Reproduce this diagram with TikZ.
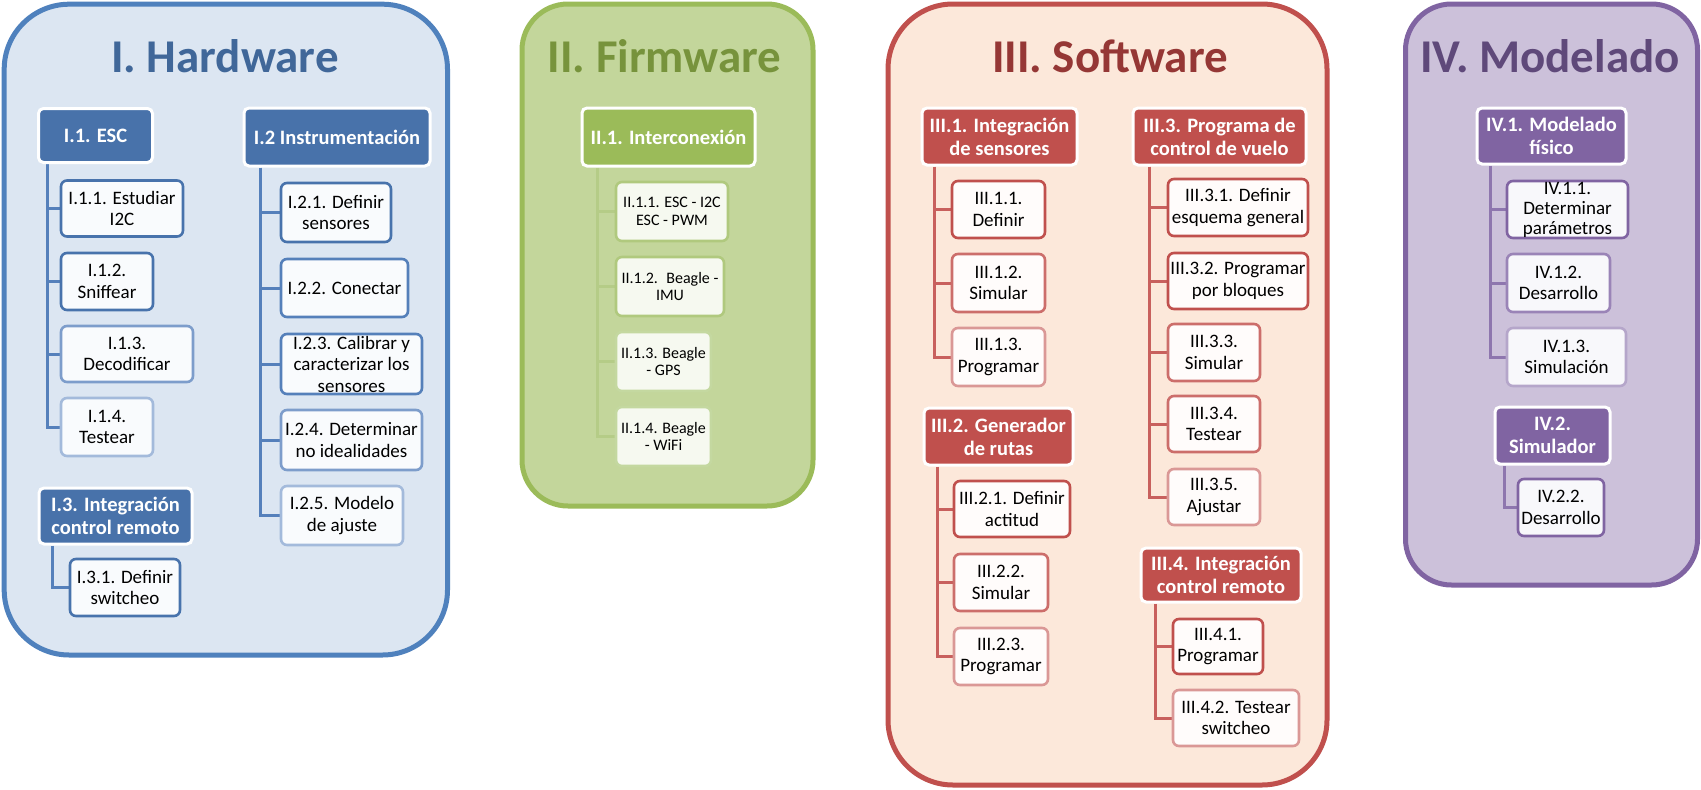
\documentclass[tikz,border=0pt]{standalone}
\usepackage{fontspec}
\setmainfont{Carlito}
\pgfdeclarelayer{panellayer}
\pgfdeclarelayer{linelayer}
\pgfsetlayers{panellayer,linelayer,main}
\definecolor{bAcc}{HTML}{4F81BD}
\definecolor{bHead}{HTML}{4872AA}
\definecolor{bFill}{HTML}{DCE6F2}
\definecolor{bTitle}{HTML}{406799}
\definecolor{bCF}{HTML}{F9FBFD}
\definecolor{bC1}{HTML}{4873AC}
\definecolor{bC2}{HTML}{5580BA}
\definecolor{bC3}{HTML}{7D9DCB}
\definecolor{bC4}{HTML}{A3BADB}
\definecolor{bLine}{HTML}{5580BB}
\definecolor{gAcc}{HTML}{9BBB59}
\definecolor{gFill}{HTML}{C3D69B}
\definecolor{gTitle}{HTML}{77933C}
\definecolor{gCF}{HTML}{F6F9F0}
\definecolor{gC1}{HTML}{B0C97E}
\definecolor{gC2}{HTML}{C4D8A0}
\definecolor{gLine}{HTML}{B5CC87}
\definecolor{rAcc}{HTML}{C0504D}
\definecolor{rFill}{HTML}{FCE8DA}
\definecolor{rTitle}{HTML}{953735}
\definecolor{rCF}{HTML}{FFFCFB}
\definecolor{rC1}{HTML}{C0504D}
\definecolor{rC2}{HTML}{CC6E6B}
\definecolor{rC3}{HTML}{DA9896}
\definecolor{rLine}{HTML}{C8605D}
\definecolor{pAcc}{HTML}{8064A2}
\definecolor{pFill}{HTML}{CCC1DA}
\definecolor{pTitle}{HTML}{5F497A}
\definecolor{pCF}{HTML}{F8F8FB}
\definecolor{pC1}{HTML}{8064A2}
\definecolor{pC2}{HTML}{9A84B7}
\definecolor{pC3}{HTML}{B5A6CA}
\definecolor{pLine}{HTML}{8E76AE}
\newcommand\hdfont{\bfseries\fontsize{20.5}{23}\selectfont}
\newcommand\chfont{\fontsize{19}{21.5}\selectfont}
\newcommand\fwfont{\fontsize{16}{17.5}\selectfont}
\newcommand\ttlfont{\bfseries\fontsize{47}{50}\selectfont}
\tikzset{
  head/.style={rounded corners=5pt, draw=white, line width=3pt, text=white, font=\hdfont, align=center, inner sep=0pt},
  child/.style={rounded corners=6pt, line width=2.6pt, font=\chfont, align=center, inner sep=0pt, text=black},
  conn/.style={line width=3pt},
  panelbox/.style={line width=5pt},
  ttl/.style={font=\ttlfont, anchor=base, inner sep=0pt},
}
\begin{document}
\begin{tikzpicture}[x=1pt,y=-1pt]
\useasboundingbox (0,0) rectangle (1701,790);
% ---------- panels ----------
\begin{pgfonlayer}{panellayer}
\fill[white] (0,0) rectangle (1701,790);
\draw[panelbox, draw=bAcc, fill=bFill, rounded corners=65pt] (4.2,4.2) rectangle (447.5,655);
\draw[panelbox, draw=gAcc, fill=gFill, rounded corners=46pt] (522,4) rectangle (813,506);
\draw[panelbox, draw=rAcc, fill=rFill, rounded corners=65pt] (888,4) rectangle (1327,785);
\draw[panelbox, draw=pAcc, fill=pFill, rounded corners=46pt] (1405.5,4) rectangle (1697.5,585);
\end{pgfonlayer}
% ---------- titles ----------
\node[ttl, text=bTitle] (t1) at (225,72) {I. Hardware};
\node[ttl, text=gTitle] (t2) at (664.5,72) {II. Firmware};
\node[ttl, text=rTitle] (t3) at (1110,72) {III. Software};
\node[ttl, text=pTitle] (t4) at (1550,72) {IV. Modelado};
% ---------- I. Hardware ----------
\node[head, fill=bHead, minimum width=114pt, minimum height=54pt] (h11) at (95.5,135.5) {I.1. ESC};
\node[head, fill=bHead, minimum width=186pt, minimum height=58pt] (h12) at (337,137) {I.2 Instrumentación};
\node[head, fill=bHead, minimum width=153pt, minimum height=56pt] (h13) at (115.5,516) {I.3. Integración\\control remoto};
\node[child, draw=bC1, fill=bCF, minimum width=122pt, minimum height=56pt] (c111) at (122,208.5) {I.1.1. Estudiar\\I2C};
\node[child, draw=bC1, fill=bCF, minimum width=92pt, minimum height=57pt] (c112) at (107,281.5) {I.1.2.\\Sniffear};
\node[child, draw=bC3, fill=bCF, minimum width=132pt, minimum height=56pt] (c113) at (127,354) {I.1.3.\\Decodificar};
\node[child, draw=bC4, fill=bCF, minimum width=92pt, minimum height=58pt] (c114) at (107,427) {I.1.4.\\Testear};
\node[child, draw=bC1, fill=bCF, minimum width=110pt, minimum height=59pt] (c121) at (336,212.5) {I.2.1. Definir\\sensores};
\node[child, draw=bC2, fill=bCF, minimum width=127pt, minimum height=58pt] (c122) at (344.5,288) {I.2.2. Conectar};
\node[child, draw=bC2, fill=bCF, minimum width=141pt, minimum height=60pt] (c123) at (351.5,364) {I.2.3. Calibrar y\\caracterizar los\\sensores};
\node[child, draw=bC3, fill=bCF, minimum width=141pt, minimum height=60pt] (c124) at (351.5,440) {I.2.4. Determinar\\no idealidades};
\node[child, draw=bC4, fill=bCF, minimum width=122pt, minimum height=59pt] (c125) at (342,515.5) {I.2.5. Modelo\\de ajuste};
\node[child, draw=bC1, fill=bCF, minimum width=110pt, minimum height=57pt] (c131) at (125,587.5) {I.3.1. Definir\\switcheo};
% ---------- II. Firmware ----------
\node[head, fill=gAcc, minimum width=173pt, minimum height=58pt] (f1) at (668.5,137) {II.1. Interconexión};
\node[child, font=\fwfont, draw=gC1, fill=gCF, minimum width=112pt, minimum height=59pt] (f11) at (672,211.5) {II.1.1. ESC - I2C\\ESC - PWM};
\node[child, font=\fwfont, draw=gC1, fill=gCF, minimum width=108pt, minimum height=59pt] (f12) at (670,286.5) {II.1.2.~ Beagle -\\IMU};
\node[child, font=\fwfont, draw=gC2, fill=gCF, minimum width=95pt, minimum height=59pt] (f13) at (663.5,361.5) {II.1.3. Beagle\\- GPS};
\node[child, font=\fwfont, draw=gC2, fill=gCF, minimum width=95pt, minimum height=59pt] (f14) at (663.5,436.5) {II.1.4. Beagle\\- WiFi};
% ---------- III. Software ----------
\node[head, fill=rAcc, minimum width=155pt, minimum height=57pt] (s1) at (999.5,136.5) {III.1. Integración\\de sensores};
\node[head, fill=rAcc, minimum width=173pt, minimum height=57pt] (s3) at (1219.5,136.5) {III.3. Programa de\\control de vuelo};
\node[head, fill=rAcc, minimum width=149pt, minimum height=57pt] (s2) at (998.5,436.5) {III.2. Generador\\de rutas};
\node[head, fill=rAcc, minimum width=160pt, minimum height=54pt] (s4) at (1221,575) {III.4. Integración\\control remoto};
\node[child, draw=rC1, fill=rCF, minimum width=93pt, minimum height=57pt] (s11) at (998.5,209.5) {III.1.1.\\Definir};
\node[child, draw=rC2, fill=rCF, minimum width=93pt, minimum height=58pt] (s12) at (998.5,283) {III.1.2.\\Simular};
\node[child, draw=rC3, fill=rCF, minimum width=93pt, minimum height=58pt] (s13) at (998.5,357) {III.1.3.\\Programar};
\node[child, draw=rC1, fill=rCF, minimum width=140pt, minimum height=57pt] (s31) at (1238,207.5) {III.3.1. Definir\\esquema general};
\node[child, draw=rC1, fill=rCF, minimum width=140pt, minimum height=56pt] (s32) at (1238,281) {III.3.2. Programar\\por bloques};
\node[child, draw=rC2, fill=rCF, minimum width=92pt, minimum height=57pt] (s33) at (1214,352.5) {III.3.3.\\Simular};
\node[child, draw=rC2, fill=rCF, minimum width=92pt, minimum height=56pt] (s34) at (1214,424) {III.3.4.\\Testear};
\node[child, draw=rC3, fill=rCF, minimum width=92pt, minimum height=56pt] (s35) at (1214,497) {III.3.5.\\Ajustar};
\node[child, draw=rC1, fill=rCF, minimum width=116pt, minimum height=56pt] (s21) at (1012,509) {III.2.1. Definir\\actitud};
\node[child, draw=rC2, fill=rCF, minimum width=94pt, minimum height=57pt] (s22) at (1001,582.5) {III.2.2.\\Simular};
\node[child, draw=rC3, fill=rCF, minimum width=94pt, minimum height=57pt] (s23) at (1001,656.5) {III.2.3.\\Programar};
\node[child, draw=rC1, fill=rCF, minimum width=90pt, minimum height=55pt] (s41) at (1218,646.5) {III.4.1.\\Programar};
\node[child, draw=rC3, fill=rCF, minimum width=126pt, minimum height=56pt] (s42) at (1236,718) {III.4.2. Testear\\switcheo};
% ---------- IV. Modelado ----------
\node[head, fill=pAcc, minimum width=149pt, minimum height=56pt] (m1) at (1551.5,136) {IV.1. Modelado\\físico};
\node[head, fill=pAcc, minimum width=115pt, minimum height=57pt] (m2) at (1552.5,435.5) {IV.2.\\Simulador};
\node[child, font={\fontsize{19}{20}\selectfont}, draw=pC1, fill=pCF, minimum width=121pt, minimum height=57pt] (m11) at (1567.5,209.5) {IV.1.1.\\Determinar\\parámetros};
\node[child, draw=pC2, fill=pCF, minimum width=103pt, minimum height=58pt] (m12) at (1558.5,283) {IV.1.2.\\Desarrollo};
\node[child, draw=pC3, fill=pCF, minimum width=119pt, minimum height=58pt] (m13) at (1566.5,357) {IV.1.3.\\Simulación};
\node[child, draw=pC1, fill=pCF, minimum width=86pt, minimum height=57pt] (m22) at (1561,507.5) {IV.2.2.\\Desarrollo};
% ---------- connectors ----------
\begin{pgfonlayer}{linelayer}
\foreach \c in {c111,c112,c113,c114} \draw[conn, bLine] ([xshift=10pt]h11.south west) |- (\c.west);
\foreach \c in {c121,c122,c123,c124,c125} \draw[conn, bLine] ([xshift=18pt]h12.south west) |- (\c.west);
\draw[conn, bLine] ([xshift=15pt]h13.south west) |- (c131.west);
\foreach \c in {f11,f12,f13,f14} \draw[conn, gLine] ([xshift=17pt]f1.south west) |- (\c.west);
\foreach \c in {s11,s12,s13} \draw[conn, rLine] ([xshift=14pt]s1.south west) |- (\c.west);
\foreach \c in {s31,s32,s33,s34,s35} \draw[conn, rLine] ([xshift=18pt]s3.south west) |- (\c.west);
\foreach \c in {s21,s22,s23} \draw[conn, rLine] ([xshift=15pt]s2.south west) |- (\c.west);
\foreach \c in {s41,s42} \draw[conn, rLine] ([xshift=16pt]s4.south west) |- (\c.west);
\foreach \c in {m11,m12,m13} \draw[conn, pLine] ([xshift=15pt]m1.south west) |- (\c.west);
\draw[conn, pLine] ([xshift=11pt]m2.south west) |- (m22.west);
\end{pgfonlayer}
\end{tikzpicture}
\end{document}
